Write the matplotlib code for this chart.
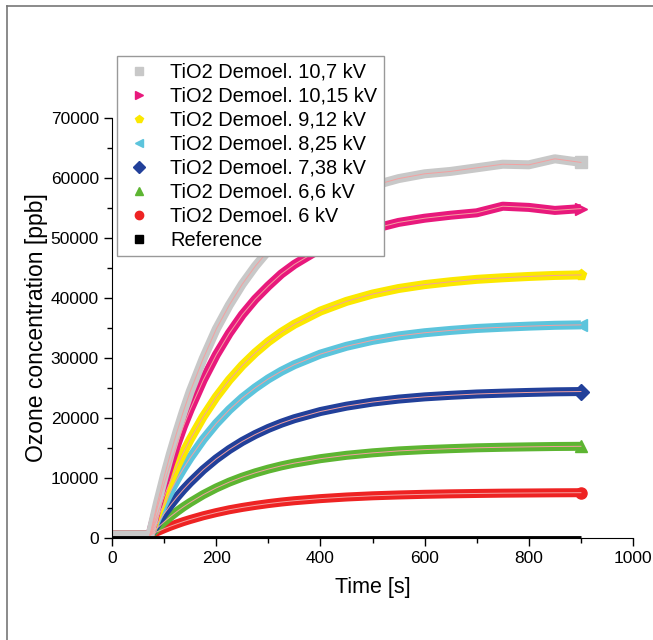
"""Ozone concentration vs time for TiO2 Demoel. at different voltages."""

import matplotlib.pyplot as plt
from matplotlib.lines import Line2D

plt.rcParams['font.family'] = ['Liberation Sans', 'DejaVu Sans']

time = [0, 73, 87, 100, 112, 125, 137, 150, 175, 200, 225, 250, 275, 300, 325, 350,
        400, 450, 500, 550, 600, 650, 700, 750, 800, 850, 900]

gray_10_7 = [500, 500, 5750, 10200, 14000, 17800, 21100, 24400, 29900, 34800, 38800, 42300,
             45300, 47900, 50100, 51900, 54900, 57100, 58700, 59900, 60700, 61100, 61700,
             62300, 62200, 63200, 62600]
pink_10_15 = [500, 500, 5100, 9000, 12300, 15700, 18600, 21400, 26300, 30500, 34100, 37200,
              39800, 42000, 44000, 45600, 48200, 50100, 51500, 52600, 53300, 53800, 54200,
              55300, 55100, 54600, 54900]
yellow_9_12 = [500, 500, 3950, 6920, 9460, 12040, 14220, 16410, 20210, 23490, 26330, 28770,
               30870, 32710, 34280, 35630, 37820, 39440, 40660, 41580, 42230, 42710, 43110,
               43370, 43590, 43760, 43850]
cyan_8_25 = [500, 500, 3290, 5690, 7740, 9820, 11580, 13350, 16420, 19070, 21360, 23340,
             25030, 26520, 27790, 28880, 30650, 31950, 32940, 33680, 34210, 34600, 34920,
             35130, 35310, 35450, 35520]
blue_7_38 = [500, 500, 2400, 4040, 5440, 6860, 8070, 9270, 11370, 13180, 14740, 16090,
             17250, 18260, 19130, 19880, 21080, 21970, 22650, 23150, 23520, 23780, 24000,
             24140, 24260, 24360, 24410]
green_6_6 = [500, 500, 1680, 2690, 3550, 4430, 5180, 5920, 7220, 8340, 9310, 10140,
             10860, 11480, 12020, 12480, 13220, 13780, 14190, 14510, 14730, 14890, 15030,
             15120, 15190, 15250, 15280]
red_6 = [500, 500, 1060, 1540, 1960, 2370, 2730, 3080, 3700, 4230, 4700, 5090,
         5430, 5730, 5990, 6210, 6560, 6830, 7030, 7170, 7280, 7360, 7420,
         7470, 7500, 7530, 7550]
reference = [0] * len(time)

labels = ['TiO2 Demoel. 10,7 kV', 'TiO2 Demoel. 10,15 kV', 'TiO2 Demoel. 9,12 kV',
          'TiO2 Demoel. 8,25 kV', 'TiO2 Demoel. 7,38 kV', 'TiO2 Demoel. 6,6 kV',
          'TiO2 Demoel. 6 kV', 'Reference']
series = [gray_10_7, pink_10_15, yellow_9_12, cyan_8_25, blue_7_38, green_6_6, red_6, reference]
couleur = ['#c8c8c8', '#e8197c', '#fbe800', '#5cc4dc', '#22409a', '#5db532', '#ee2323', 'black']
markers = ['s', '>', 'p', '<', 'D', '^', 'o', 's']

fig = plt.figure(figsize=(6.53, 6.40), dpi=100)
ax = fig.add_axes([0.1715, 0.1594, 0.7979, 0.6562])

# curves drawn from bottom to top so the upper ones sit on top
for y, c, mk in list(zip(series, couleur, markers))[::-1]:
    if c == 'black':
        ax.plot(time, y, color=c, lw=3.5, solid_capstyle='butt', zorder=3)
        continue
    ax.plot(time, y, color=c, lw=6.5, solid_capstyle='butt', solid_joinstyle='round', zorder=2)
    ax.plot(time[-1], y[-1], marker=mk, color=c, ms=8, mec=c, zorder=2)
    # fit line
    ax.plot(time[1:], y[1:], color='#f4a0a0', lw=0.7, zorder=2.5)

ax.set_xlim(0, 1000)
ax.set_ylim(0, 70000)
ax.set_xticks(range(0, 1001, 200))
ax.set_xticks(range(100, 1000, 200), minor=True)
ax.set_yticks(range(0, 70001, 10000))
ax.set_yticks(range(5000, 70000, 10000), minor=True)
ax.spines['top'].set_visible(False)
ax.spines['right'].set_visible(False)
ax.tick_params(which='major', direction='out', length=6, width=1, labelsize=12.5)
ax.tick_params(which='minor', direction='out', length=3.5, width=1)
ax.set_xlabel('Time [s]', fontsize=15.5, labelpad=8)
ax.set_ylabel('Ozone concentration [ppb]', fontsize=16.5, labelpad=2)

handles = [Line2D([], [], ls='none', marker=mk, color=c, ms=6)
           for c, mk in zip(couleur, markers)]
leg = fig.legend(handles, labels, loc='upper left', bbox_to_anchor=(0.179, 0.9125),
                 fontsize=14.4, frameon=True, fancybox=False, edgecolor='#999999',
                 framealpha=1, borderpad=0.33, labelspacing=0.25, handletextpad=0.75,
                 handlelength=1.6, borderaxespad=0)
leg.get_frame().set_linewidth(1)

# partial frame around the figure
fig.add_artist(Line2D([7 / 653, 1], [1 - 6 / 640, 1 - 6 / 640], color='#777777', lw=1.2))
fig.add_artist(Line2D([7 / 653, 7 / 653], [0, 1 - 6 / 640], color='#777777', lw=1.2))

plt.savefig('out.png', dpi=100)
